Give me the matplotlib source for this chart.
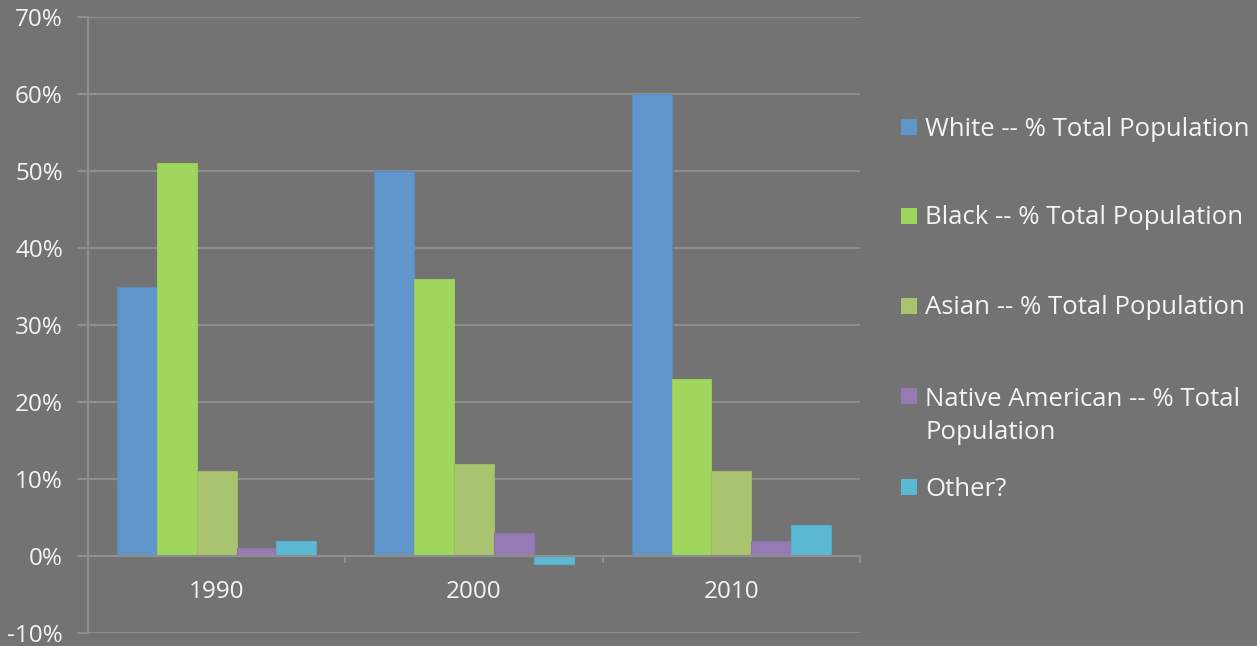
import matplotlib
matplotlib.use("Agg")
import matplotlib.pyplot as plt
import numpy as np
from matplotlib.patches import Rectangle
from matplotlib.ticker import FuncFormatter

years = ["1990", "2000", "2010"]
series_labels = ["White -- % Total Population",
                 "Black -- % Total Population",
                 "Asian -- % Total Population",
                 "Native American -- % Total\nPopulation",
                 "Other?"]
white = [35, 50, 60]
black = [51, 36, 23]
asian = [11, 12, 11]
native = [1, 3, 2]
other = [2, -1, 4]
series_values = [white, black, asian, native, other]
colors = ["#6096cb", "#a0d65e", "#a9c36f", "#967bb3", "#5bb9d3"]
edges = ["#5a8cbf", "#97ca59", "#9fb868", "#8d74a9", "#56aec7"]
y_ticks = [-10, 0, 10, 20, 30, 40, 50, 60, 70]

BG = "#737373"
GRID = "#8e8e8e"
TXT = "#f4f4f4"
plt.rcParams['font.family'] = ['Open Sans', 'DejaVu Sans']

fig = plt.figure(figsize=(12.57, 6.46), dpi=100, facecolor=BG)
ax = fig.add_axes([88/1257, 13/646, (860-88)/1257, (633-17)/646])
ax.set_facecolor(BG)

n = len(series_values)
w = 0.155
x = np.arange(len(years))
for i, (vals, c, e) in enumerate(zip(series_values, colors, edges)):
    ax.bar(x + (i - (n-1)/2) * w, vals, width=w, color=c, edgecolor=e,
           linewidth=0.8, zorder=3)

ax.set_xlim(-0.5, len(years) - 0.5)
ax.set_ylim(-10, 70)
ax.set_yticks(y_ticks)
ax.yaxis.set_major_formatter(FuncFormatter(lambda v, p: f"{int(v)}%"))
ax.grid(axis='y', color=GRID, linewidth=1.5, zorder=0)
ax.tick_params(axis='y', colors=GRID, length=8, width=1.5, labelcolor=TXT,
               labelsize=17.5, pad=10)

# x axis at zero
ax.set_xticks([])
ax.axhline(0, color=GRID, linewidth=1.5, zorder=4)
for b in np.arange(len(years) + 1) - 0.5:
    ax.plot([b, b], [0, -0.8], color=GRID, linewidth=1.5, zorder=4, clip_on=False)
for xi, yl in zip(x, years):
    ax.text(xi, -4.7, yl, ha='center', va='center', color=TXT, fontsize=17.5)

for s in ['top', 'right', 'bottom']:
    ax.spines[s].set_visible(False)
ax.spines['left'].set_color(GRID)
ax.spines['left'].set_linewidth(1.5)

# legend
leg_y = [129, 218, 308, 398, 489]
for lab, c, yy in zip(series_labels, colors, leg_y):
    fig.patches.append(Rectangle((901/1257, 1 - (yy + 6)/646), 16/1257, 16/646,
                                 transform=fig.transFigure, facecolor=c,
                                 edgecolor='none'))
    if '\n' in lab:
        fig.text(925/1257, 1 - (yy - 11)/646, lab, ha='left', va='top',
                 color=TXT, fontsize=18.5, linespacing=1.42)
    else:
        fig.text(925/1257, 1 - yy/646, lab, ha='left', va='center',
                 color=TXT, fontsize=18.5)

fig.savefig("out.png", dpi=100, facecolor=BG)
